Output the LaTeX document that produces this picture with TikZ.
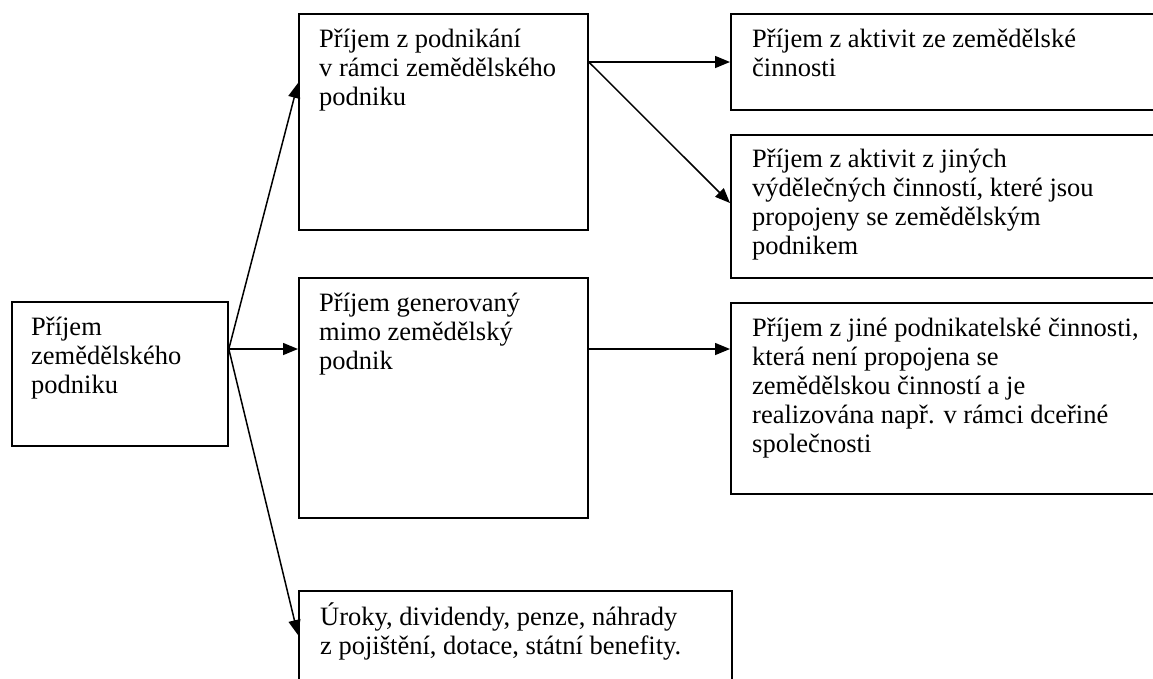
\documentclass[tikz,border=0pt]{standalone}
\usepackage{fontspec}
\setmainfont{Liberation Serif}
\usetikzlibrary{arrows.meta}
\tikzset{
    box/.style={draw, line width=1.8pt, inner sep=0pt, anchor=north west},
    txt/.style={anchor=base west, align=left, inner sep=0pt, font=\fontsize{26.5}{29}\selectfont},
    arr/.style={line width=1.5pt, -{Triangle[length=15pt,width=12pt]}}
}
\begin{document}
\begin{tikzpicture}[x=1pt,y=-1pt]
        \useasboundingbox (0,0) rectangle (1153,678);
        \clip (0,0) rectangle (1153,678);
        % boxes
        \node[box, minimum width=216pt, minimum height=144pt] (a) at (11,301) {};
        \node[box, minimum width=289pt, minimum height=216pt] (b1) at (298,13) {};
        \node[box, minimum width=289pt, minimum height=240pt] (b2) at (298,277) {};
        \node[box, minimum width=433pt, minimum height=130pt] (b3) at (298,590) {};
        \node[box, minimum width=470pt, minimum height=96pt] (c1) at (730,13) {};
        \node[box, minimum width=470pt, minimum height=143pt] (c2) at (730,134) {};
        \node[box, minimum width=470pt, minimum height=191pt] (c3) at (730,302) {};
        % texts (placed by the baseline of their last line)
        \node[txt] (a-t) at ([xshift=20pt,yshift=-92pt]a.north west) {Příjem\\zemědělského\\podniku};
        \node[txt] (b1-t) at ([xshift=21pt,yshift=-92pt]b1.north west) {Příjem z podnikání\\v rámci zemědělského\\podniku};
        \node[txt] (b2-t) at ([xshift=21pt,yshift=-92pt]b2.north west) {Příjem generovaný\\mimo zemědělský\\podnik};
        \node[txt] (b3-t) at ([xshift=22pt,yshift=-64pt]b3.north west) {Úroky, dividendy, penze, náhrady\\z pojištění, dotace, státní benefity.};
        \node[txt] (c1-t) at ([xshift=22pt,yshift=-63pt]c1.north west) {Příjem z aktivit ze zemědělské\\činnosti};
        \node[txt] (c2-t) at ([xshift=22pt,yshift=-120pt]c2.north west) {Příjem z aktivit z jiných\\výdělečných činností, které jsou\\propojeny se zemědělským\\podnikem};
        \node[txt] (c3-t) at ([xshift=22pt,yshift=-150pt]c3.north west) {Příjem z jiné podnikatelské činnosti,\\která není propojena se\\zemědělskou činností a je\\realizována např. v rámci dceřiné\\společnosti};
        % arrows
        \coordinate (fork) at ([yshift=-48pt]a.north east);
        \coordinate (b1-out) at ([yshift=-49pt]b1.north east);
        \foreach \t/\d in {b1/70,b2/72,b3/45}
            \draw[arr] (fork) -- ([yshift=-\d pt]\t.north west);
        \draw[arr] (b1-out) -- ([yshift=-49pt]c1.north west);
        \draw[arr] (b1-out) -- ([yshift=-69pt]c2.north west);
        \draw[arr] (b2.east |- fork) -- (c3.west |- fork);
    \end{tikzpicture}
\end{document}
